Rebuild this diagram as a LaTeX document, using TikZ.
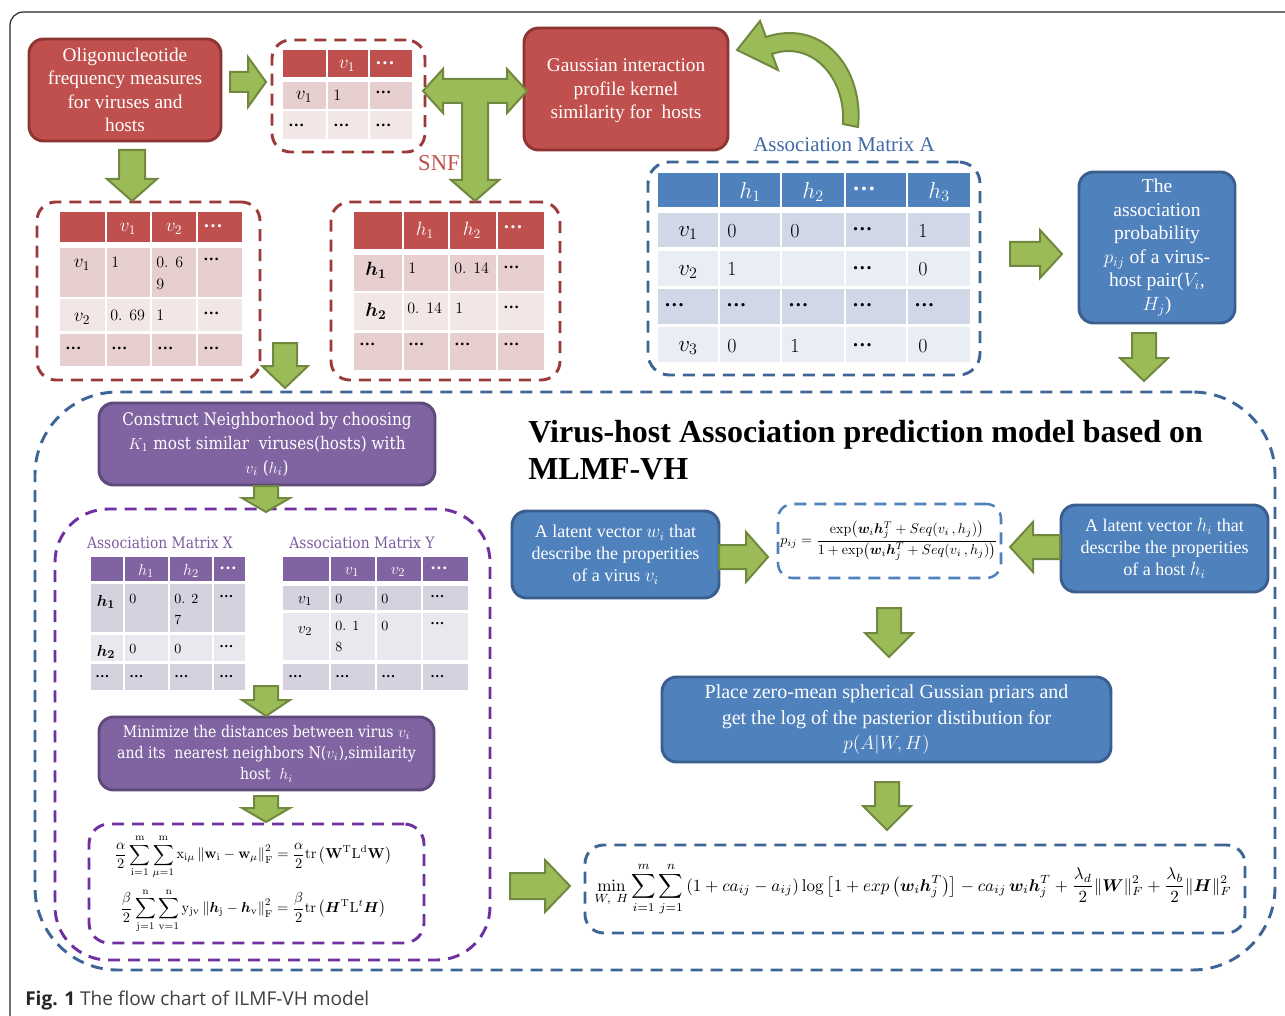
\documentclass[tikz,border=0pt]{standalone}
\usepackage[no-math]{fontspec}
\usepackage{amsmath,bm,graphicx}
\usetikzlibrary{fit}
\newfontfamily\tnr{Liberation Serif}
\newfontfamily\pfont[FakeStretch=0.88]{DejaVu Serif}
\newfontfamily\capfont{Open Sans}
\definecolor{cred}{HTML}{C0504D}
\definecolor{credd}{HTML}{8E3432}
\definecolor{credt}{HTML}{9B3B39}
\definecolor{redRa}{HTML}{E8CFCF}
\definecolor{redRb}{HTML}{F2E6E6}
\definecolor{cblue}{HTML}{4F81BD}
\definecolor{cblued}{HTML}{3A5F8E}
\definecolor{blueRa}{HTML}{D0D8E8}
\definecolor{blueRb}{HTML}{E9EDF4}
\definecolor{bdash}{HTML}{3D6595}
\definecolor{cpur}{HTML}{8064A2}
\definecolor{cpurd}{HTML}{5E4A7A}
\definecolor{purRa}{HTML}{D6D1DF}
\definecolor{purRb}{HTML}{EAE7EF}
\definecolor{pdash}{HTML}{7030A0}
\definecolor{plabel}{HTML}{7B5EA0}
\definecolor{blabel}{HTML}{3F6AA6}
\definecolor{cgreen}{HTML}{9BBB59}
\definecolor{cgreend}{HTML}{71893F}
\newcommand\dts{{\tnr\bfseries\textellipsis}}
\newcommand\garD[6]{\draw[garrow] ({#1-#4},#2) -- ({#1+#4},#2) -- ({#1+#4},{#3-#6}) -- ({#1+#5},{#3-#6}) -- (#1,#3) -- ({#1-#5},{#3-#6}) -- ({#1-#4},{#3-#6}) -- cycle;}
\newcommand\garR[6]{\draw[garrow] (#2,{#1-#4}) -- ({#3-#6},{#1-#4}) -- ({#3-#6},{#1-#5}) -- (#3,#1) -- ({#3-#6},{#1+#5}) -- ({#3-#6},{#1+#4}) -- (#2,{#1+#4}) -- cycle;}
\newcommand\garL[6]{\draw[garrow] (#2,{#1-#4}) -- ({#3+#6},{#1-#4}) -- ({#3+#6},{#1-#5}) -- (#3,#1) -- ({#3+#6},{#1+#5}) -- ({#3+#6},{#1+#4}) -- (#2,{#1+#4}) -- cycle;}
% box node: style, name, x0, y0, x1, y1, text
\newcommand\bx[7]{\node[#1, minimum width={(#5-#3)*0.75pt}, minimum height={(#6-#4)*0.75pt}] (#2) at ({(#3+#5)/2},{(#4+#6)/2}) {#7};}
\tikzset{
  box/.style={draw, line width=2.2pt, rounded corners=11pt, inner sep=0pt, align=center, text=white},
  redbox/.style={box, fill=cred, draw=credd, font=\tnr\fontsize{14.5}{17.6}\selectfont},
  bluebox/.style={box, fill=cblue, draw=cblued},
  purplebox/.style={box, fill=cpur, draw=cpurd},
  dbox/.style={draw, inner sep=0pt, dash pattern=on 9pt off 6pt, line width=2.2pt, rounded corners=14pt},
  reddash/.style={dbox, draw=credt},
  bluedash/.style={dbox, draw=bdash},
  purdash/.style={dbox, draw=pdash},
  garrow/.style={fill=cgreen, draw=cgreend, line width=1.5pt, line join=miter},
  tt/.style={inner sep=0pt, font=\fontsize{12}{14}\selectfont},
  tl/.style={inner sep=0pt, font=\fontsize{14.5}{16}\selectfont},
  th/.style={tl, text=white},
  ta/.style={inner sep=0pt, font=\fontsize{15}{17}\selectfont},
  tal/.style={inner sep=0pt, font=\fontsize{17.5}{19}\selectfont},
  tah/.style={tal, text=white},
  tx/.style={inner sep=0pt, font=\fontsize{10.5}{12}\selectfont},
  txl/.style={inner sep=0pt, font=\fontsize{13}{14}\selectfont},
  txh/.style={txl, text=white},
}
\begin{document}
\begin{tikzpicture}[x=0.75pt,y=-0.75pt]
\useasboundingbox (0,0) rectangle (1285,1016);
\fill[white] (0,0) rectangle (1285,1016);
\draw[line width=0.9pt, draw=black!85, rounded corners=10pt] (10,1040) -- (10,12) -- (1310,12);

% big regions
\node[bluedash, rounded corners=62pt, fit={(35,392) (1275,970)}] (region) {};
\node[purdash, rounded corners=40pt, fit={(55,509) (490,960)}] (pregion) {};

% top red boxes
\bx{redbox}{olig}{29}{39}{221}{141}{Oligonucleotide\\frequency measures\\for viruses and\\hosts}
\bx{redbox}{gauss}{524}{28}{728}{150}{}
\node[align=center, text=white, inner sep=0pt, font=\tnr\fontsize{14.5}{17.6}\selectfont] (gausst) at (626,91) {Gaussian interaction\\profile kernel\\similarity for\ \ hosts};

% table 1
\node[reddash, fit={(272,40) (425,152)}] (t1box) {};
\foreach \a/\b in {283/326,328/368,370/412}{
  \fill[cred] (\a,50) rectangle (\b,77);
  \fill[redRa] (\a,82) rectangle (\b,109);
  \fill[redRb] (\a,111) rectangle (\b,139);}
\node[th] (t1h1) at (347,66) {$v_1$};
\node[th, anchor=west] (t1h2) at (375,63) {\dts};
\node[tl] (t1r1) at (304,97) {$v_1$};
\node[tt, anchor=west] (t1a) at (333,95) {1};
\node[tt, anchor=west] (t1b) at (375,92) {\dts};
\node[tt, anchor=west] (t1c) at (288,125) {\dts};
\node[tt, anchor=west] (t1d) at (333,125) {\dts};
\node[tt, anchor=west] (t1e) at (375,125) {\dts};

% table 2
\node[reddash, fit={(37,202) (260,380)}] (t2box) {};
\foreach \a/\b in {60/105,107/150,152/196,198/242}{
  \fill[cred] (\a,212) rectangle (\b,242);
  \fill[redRa] (\a,248) rectangle (\b,297);
  \fill[redRb] (\a,299) rectangle (\b,331);
  \fill[redRa] (\a,334) rectangle (\b,366);}
\node[th] (t2h1) at (128,229) {$v_1$};
\node[th] (t2h2) at (174,229) {$v_2$};
\node[th, anchor=west] (t2h3) at (203,226) {\dts};
\node[tl] (t2r1) at (82,265) {$v_1$};
\node[tt, anchor=west] (t2a) at (111,262) {1};
\node[tt, anchor=west] (t2b) at (156,262) {0. 6};
\node[tt, anchor=west] (t2b2) at (156,284) {9};
\node[tt, anchor=west] (t2c) at (203,259) {\dts};
\node[tl] (t2r2) at (82,319) {$v_2$};
\node[tt, anchor=west] (t2d) at (110,315) {0. 69};
\node[tt, anchor=west] (t2e) at (156,315) {1};
\node[tt, anchor=west] (t2f) at (203,313) {\dts};
\node[tt, anchor=west] (t2g) at (65,348) {\dts};
\node[tt, anchor=west] (t2h) at (111,348) {\dts};
\node[tt, anchor=west] (t2i) at (157,348) {\dts};
\node[tt, anchor=west] (t2j) at (203,348) {\dts};

% table 3
\node[reddash, fit={(331,202) (560,380)}] (t3box) {};
\foreach \a/\b in {354/402,404/448,450/496,498/544}{
  \fill[cred] (\a,212) rectangle (\b,249);
  \fill[redRa] (\a,255) rectangle (\b,291);
  \fill[redRb] (\a,293) rectangle (\b,330);
  \fill[redRa] (\a,333) rectangle (\b,370);}
\node[th] (t3h1) at (425,230) {$h_1$};
\node[th] (t3h2) at (472,230) {$h_2$};
\node[th, anchor=west] (t3h3) at (503,227) {\dts};
\node[tl] (t3r1) at (376,270) {$\bm{h_1}$};
\node[tt, anchor=west] (t3a) at (408,268) {1};
\node[tt, anchor=west] (t3b) at (454,268) {0. 14};
\node[tt, anchor=west] (t3c) at (503,267) {\dts};
\node[tl] (t3r2) at (376,311) {$\bm{h_2}$};
\node[tt, anchor=west] (t3d) at (407,308) {0. 14};
\node[tt, anchor=west] (t3e) at (455,308) {1};
\node[tt, anchor=west] (t3f) at (503,307) {\dts};
\node[tt, anchor=west] (t3g) at (359,344) {\dts};
\node[tt, anchor=west] (t3h) at (408,344) {\dts};
\node[tt, anchor=west] (t3i) at (454,344) {\dts};
\node[tt, anchor=west] (t3j) at (503,344) {\dts};

\node[text=cred, inner sep=0pt, font=\tnr\fontsize{17}{19}\selectfont] (snf) at (439,163) {SNF};

% association matrix A
\node[text=blabel, inner sep=0pt, font=\tnr\fontsize{15.7}{18}\selectfont] (alab) at (844,145) {Association Matrix A};
\node[bluedash, rounded corners=16pt, fit={(648,162) (980,375)}] (abox) {};
\foreach \a/\b in {658/718,720/780,782/844,846/906,908/970}{
  \fill[cblue] (\a,173) rectangle (\b,207);
  \fill[blueRa] (\a,213) rectangle (\b,247);
  \fill[blueRb] (\a,251) rectangle (\b,286);
  \fill[blueRa] (\a,289) rectangle (\b,324);
  \fill[blueRb] (\a,327) rectangle (\b,362);}
\node[tah] (ah1) at (750,192) {$h_1$};
\node[tah] (ah2) at (813,192) {$h_2$};
\node[tah, anchor=west] (ah3) at (852,189) {\dts};
\node[tah] (ah4) at (939,192) {$h_3$};
\node[tal] (ar1) at (688,233) {$v_1$};
\node[ta, anchor=west] (a11) at (727,231) {0};
\node[ta, anchor=west] (a12) at (790,231) {0};
\node[ta, anchor=west] (a13) at (852,229) {\dts};
\node[ta, anchor=west] (a14) at (918,231) {1};
\node[tal] (ar2) at (688,272) {$v_2$};
\node[ta, anchor=west] (a21) at (727,269) {1};
\node[ta, anchor=west] (a23) at (852,268) {\dts};
\node[ta, anchor=west] (a24) at (918,269) {0};
\node[ta, anchor=west] (a30) at (664,305) {\dts};
\node[ta, anchor=west] (a31) at (726,305) {\dts};
\node[ta, anchor=west] (a32) at (788,305) {\dts};
\node[ta, anchor=west] (a33) at (852,305) {\dts};
\node[ta, anchor=west] (a34) at (914,305) {\dts};
\node[tal] (ar4) at (688,348) {$v_3$};
\node[ta, anchor=west] (a41) at (727,346) {0};
\node[ta, anchor=west] (a42) at (790,346) {1};
\node[ta, anchor=west] (a43) at (852,345) {\dts};
\node[ta, anchor=west] (a44) at (918,346) {0};

\bx{bluebox, font=\tnr\fontsize{14.7}{17.7}\selectfont}{prob}{1079}{172}{1235}{323}{The\\association\\probability\\$p_{ij}$ of a virus-\\host pair($V_i$,\\$H_j$)}

% title
\node[anchor=base west, inner sep=0pt, font=\tnr\bfseries\fontsize{24}{27}\selectfont] (title1) at (528,442) {Virus-host Association prediction model based on};
\node[anchor=base west, inner sep=0pt, font=\tnr\bfseries\fontsize{24}{27}\selectfont] (title2) at (528,479) {MLMF-VH};

% purple part
\bx{purplebox, font=\pfont\fontsize{13}{18}\selectfont}{cnb}{99}{403}{435}{485}{Construct Neighborhood by choosing\\$K_1$ most similar\ \ viruses(hosts) with\\$v_i$ ($h_i$)}
\node[text=plabel, inner sep=0pt, font=\pfont\fontsize{11.8}{13}\selectfont] (xlab) at (160,543) {Association Matrix X};
\node[text=plabel, inner sep=0pt, font=\pfont\fontsize{11.8}{13}\selectfont] (ylab) at (362,543) {Association Matrix Y};
\foreach \a/\b in {91/123,125/168,170/212,214/245}{
  \fill[cpur] (\a,557) rectangle (\b,581);
  \fill[purRa] (\a,584) rectangle (\b,632);
  \fill[purRb] (\a,635) rectangle (\b,661);
  \fill[purRa] (\a,664) rectangle (\b,690);}
\node[txh] (xh1) at (146,571) {$h_1$};
\node[txh] (xh2) at (191,571) {$h_2$};
\node[txh, anchor=west] (xh3) at (219,568) {\dts};
\node[txl] (xr1) at (106,602) {$\bm{h_1}$};
\node[tx, anchor=west] (x11) at (129,599) {0};
\node[tx, anchor=west] (x12) at (174,599) {0. 2};
\node[tx, anchor=west] (x12b) at (174,620) {7};
\node[tx, anchor=west] (x13) at (219,597) {\dts};
\node[txl] (xr2) at (106,652) {$\bm{h_2}$};
\node[tx, anchor=west] (x21) at (129,649) {0};
\node[tx, anchor=west] (x22) at (174,649) {0};
\node[tx, anchor=west] (x23) at (219,647) {\dts};
\node[tx, anchor=west] (x30) at (95,677) {\dts};
\node[tx, anchor=west] (x31) at (129,677) {\dts};
\node[tx, anchor=west] (x32) at (174,677) {\dts};
\node[tx, anchor=west] (x33) at (219,677) {\dts};
\foreach \a/\b in {283/329,331/375,377/421,423/468}{
  \fill[cpur] (\a,557) rectangle (\b,581);
  \fill[purRa] (\a,586) rectangle (\b,610);
  \fill[purRb] (\a,613) rectangle (\b,660);
  \fill[purRa] (\a,664) rectangle (\b,690);}
\node[txh] (yh1) at (352,572) {$v_1$};
\node[txh] (yh2) at (398,572) {$v_2$};
\node[txh, anchor=west] (yh3) at (430,568) {\dts};
\node[txl] (yr1) at (305,601) {$v_1$};
\node[tx, anchor=west] (y11) at (335,599) {0};
\node[tx, anchor=west] (y12) at (381,599) {0};
\node[tx, anchor=west] (y13) at (430,597) {\dts};
\node[txl] (yr2) at (305,631) {$v_2$};
\node[tx, anchor=west] (y21) at (335,626) {0. 1};
\node[tx, anchor=west] (y21b) at (335,647) {8};
\node[tx, anchor=west] (y22) at (381,626) {0};
\node[tx, anchor=west] (y23) at (430,624) {\dts};
\node[tx, anchor=west] (y30) at (288,677) {\dts};
\node[tx, anchor=west] (y31) at (335,677) {\dts};
\node[tx, anchor=west] (y32) at (381,677) {\dts};
\node[tx, anchor=west] (y33) at (430,677) {\dts};
\bx{purplebox, font=\pfont\fontsize{12}{16}\selectfont}{minb}{99}{717}{434}{790}{Minimize the distances between virus $v_i$\\and its\ \ nearest neighbors N($v_i$),similarity\\host\ \ $h_i$}
\node[purdash, rounded corners=15pt, fit={(89,824) (424,943)}] (rbox) {};
\node[inner sep=0pt] (rf1) at (253,857) {\resizebox{208pt}{!}{$\displaystyle\frac{\alpha}{2}\sum_{\mathrm{i}=1}^{\mathrm{m}}\sum_{\mu=1}^{\mathrm{m}}\mathrm{x}_{\mathrm{i}\mu}\left\|\mathbf{w}_{\mathrm{i}}-\mathbf{w}_{\mu}\right\|_{\mathrm{F}}^{2}=\frac{\alpha}{2}\mathrm{tr}\left(\mathbf{W}^{\mathrm{T}}\mathrm{L}^{\mathrm{d}}\mathbf{W}\right)$}};
\node[inner sep=0pt] (rf2) at (253,911) {\resizebox{199pt}{!}{$\displaystyle\frac{\beta}{2}\sum_{\mathrm{j}=1}^{\mathrm{n}}\sum_{\mathrm{v}=1}^{\mathrm{n}}\mathrm{y}_{\mathrm{jv}}\left\|\bm{h}_{\mathrm{j}}-\bm{h}_{\mathrm{v}}\right\|_{\mathrm{F}}^{2}=\frac{\beta}{2}\mathrm{tr}\left(\bm{H}^{\mathrm{T}}\mathrm{L}^{t}\bm{H}\right)$}};

% right blue part
\bx{bluebox, font=\tnr\fontsize{13.5}{16.5}\selectfont}{lw}{512}{511}{719}{598}{A latent vector $w_i$ that\\describe the properities\\of a virus $v_i$}
\bx{bluebox, font=\tnr\fontsize{13.5}{16.5}\selectfont}{lh}{1061}{505}{1268}{592}{A latent vector $h_i$ that\\describe the properities\\of a host $h_i$}
\node[dbox, draw=cblue, line width=1.9pt, rounded corners=11pt, fit={(778,504) (1001,578)}] (pbox) {};
\node[inner sep=0pt] (pform) at (889,541) {\resizebox{163pt}{!}{$p_{ij}=\dfrac{\exp\!\left(\bm{w}_i\bm{h}_j^T+Seq(v_i\,,h_j)\right)}{1+\exp\!\left(\bm{w}_i\bm{h}_j^T+Seq(v_i\,,h_j)\right)}$}};
\bx{bluebox, font=\tnr\fontsize{15}{19}\selectfont}{place}{662}{677}{1111}{762}{Place zero-mean spherical Gussian priars and\\get the log of the pasterior distibution for\\$p(A|W,H)$}
\node[bluedash, rounded corners=14pt, fit={(585,845) (1245,933)}] (fbox) {};
\node[inner sep=0pt] (fform) at (913,889) {\resizebox{478pt}{!}{$\displaystyle\min_{W,\ H}\sum_{i=1}^{m}\sum_{j=1}^{n}\left(1+ca_{ij}-a_{ij}\right)\log\left[1+exp\left(\bm{w}_i\bm{h}_j^T\right)\right]-ca_{ij}\,\bm{w}_i\bm{h}_j^T+\frac{\lambda_d}{2}\|\bm{W}\|_F^2+\frac{\lambda_b}{2}\|\bm{H}\|_F^2$}};

% green block arrows
\garR{82}{230}{266}{10}{25}{18}
\garD{132}{150}{201}{13}{25}{22}
\draw[garrow] (423,91) -- (443,69) -- (443,79) -- (507,79) -- (507,69) -- (527,91) -- (507,113) -- (507,103) -- (488,103) -- (488,180) -- (499,180) -- (475,201) -- (451,180) -- (462,180) -- (462,103) -- (443,103) -- (443,113) -- cycle;
\garD{285}{343}{388}{12}{23}{22}
\garR{254}{1010}{1062}{12}{24}{22}
\garD{1144}{333}{381}{12}{24}{23}
\garD{266}{486}{512}{12}{24}{14}
\garD{266}{686}{716}{12}{24}{16}
\garD{266}{796}{822}{12}{24}{14}
\garR{886}{510}{570}{13}{26}{25}
\garR{557}{719}{768}{12}{25}{22}
\garL{547}{1060}{1010}{12}{25}{23}
\garD{889}{608}{657}{12}{24}{24}
\garD{887}{782}{830}{12}{24}{24}
\draw[garrow] (843,124) .. controls (846,78) and (812,40) .. (772,54) -- (778,70) -- (737,50) -- (760,21) -- (766,37) .. controls (824,18) and (864,70) .. (858,127) -- cycle;

% caption
\node[anchor=base west, inner sep=0pt, text=black!75, font=\capfont\fontsize{14.3}{16}\selectfont] (cap) at (25,1005) {\textbf{\color{black!85}Fig. 1} The flow chart of ILMF-VH model};
\end{tikzpicture}
\end{document}
